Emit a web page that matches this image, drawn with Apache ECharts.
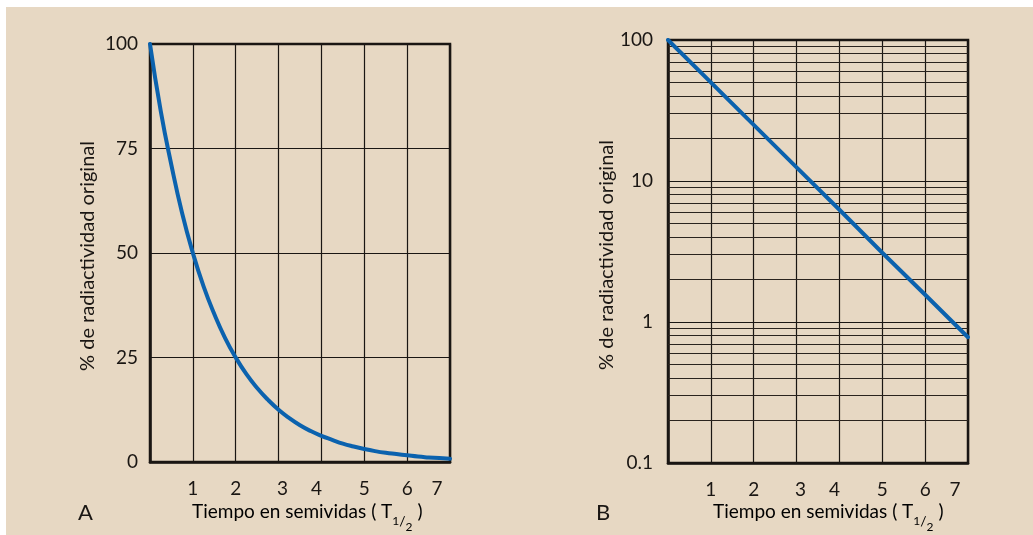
<!DOCTYPE html>
<html>
<head>
<meta charset="utf-8">
<script src="https://cdn.jsdelivr.net/npm/echarts@6/dist/echarts.min.js"></script>
<style>
html,body{margin:0;padding:0;background:#fff;}
#c{position:absolute;left:0;top:0;width:1033px;height:535px;
background:linear-gradient(#fff,#fff) top left/100% 7px no-repeat,linear-gradient(#fff,#fff) top left/6px 100% no-repeat,#e7d8c3;}
</style>
</head>
<body>
<div id="c"></div>
<script>
// Panel A: linear scale, half-life decay
var timeA = [0, 0.25, 0.5, 0.75, 1, 1.25, 1.5, 1.75, 2, 2.25, 2.5, 2.75, 3, 3.25, 3.5, 3.75, 4,
             4.25, 4.5, 4.75, 5, 5.25, 5.5, 5.75, 6, 6.25, 6.5, 6.75, 7];
var pctA = [100, 84, 71, 59.5, 50, 42, 35.4, 29.7, 25, 21, 17.7, 14.9, 12.5, 10.5, 8.8, 7.4, 6.25,
            5.3, 4.4, 3.7, 3.1, 2.6, 2.2, 1.9, 1.6, 1.3, 1.1, 0.93, 0.78];
// Panel B: log scale
var timeB = [0, 1, 2, 3, 4, 5, 6, 7];
var pctB = [100, 50, 25, 12.5, 6.25, 3.1, 1.56, 0.78];
// Minor grid values of the log axis
var logMinor = [0.2, 0.3, 0.4, 0.5, 0.6, 0.7, 0.8, 0.9, 2, 3, 4, 5, 6, 7, 8, 9, 20, 30, 40, 50, 60, 70, 80, 90];
var xTicks = [1, 2, 3, 4, 5, 6, 7];
var yTicksA = [0, 25, 50, 75, 100];
var yTicksB = [0.1, 1, 10, 100];
var xName = 'Tiempo en semividas ( T';
var yName = '% de radiactividad original';

var FONT = 'Lato';
var INK = '#1a1613';
var BLUE = '#0b62ae';

function pairs(xs, ys) { return xs.map(function (x, i) { return [x, ys[i]]; }); }

var chart = echarts.init(document.getElementById('c'), null, {renderer: 'canvas'});

var xRich = {
  n: {fontFamily: FONT, fontSize: 19, color: INK},
  n3: {fontFamily: FONT, fontSize: 19, color: INK, padding: [0, 0, 0, 8]},
  n4: {fontFamily: FONT, fontSize: 19, color: INK, padding: [0, 10, 0, 0]},
  n7: {fontFamily: FONT, fontSize: 19, color: INK, padding: [0, 26, 0, 0]}
};
function xFmt(v) {
  if (xTicks.indexOf(v) < 0) return '';
  var k = (v === 3) ? 'n3' : (v === 4) ? 'n4' : (v === 7) ? 'n7' : 'n';
  return '{' + k + '|' + v + '}';
}

function xAxis(idx) {
  return {
    type: 'value', gridIndex: idx, min: 0, max: 7, interval: 1,
    axisLine: {show: true, lineStyle: {color: INK, width: 2.5}},
    axisTick: {show: false},
    splitLine: {show: true, lineStyle: {color: INK, width: 1.2}},
    axisLabel: {margin: 17, formatter: xFmt, rich: xRich, fontFamily: FONT, fontSize: 19, color: INK}
  };
}

function nameText(x, y) {
  return {
    type: 'text', left: x, top: y,
    style: {
      text: '{m|' + xName + '}{a|1}{b|/}{c|2}{m| )}',
      rich: {
        m: {fontFamily: FONT, fontSize: 19, color: INK, height: 30, verticalAlign: 'top'},
        a: {fontFamily: FONT, fontSize: 12, color: INK, height: 30, verticalAlign: 'top', padding: [10, 0, 0, 0]},
        b: {fontFamily: FONT, fontSize: 14, color: INK, height: 30, verticalAlign: 'top', padding: [10, 0, 0, 0]},
        c: {fontFamily: FONT, fontSize: 12, color: INK, height: 30, verticalAlign: 'top', padding: [16, 0, 0, 0]}
      }
    }
  };
}
function yText(cx, cy) {
  return {
    type: 'text', x: cx, y: cy, rotation: Math.PI / 2,
    style: {text: yName, fontFamily: FONT, fontSize: 20, fill: INK, align: 'center', verticalAlign: 'middle'}
  };
}

chart.setOption({
  backgroundColor: 'transparent',
  animation: false,
  grid: [
    {left: 150, top: 44, width: 300, height: 418, show: true, borderColor: INK, borderWidth: 2.5, backgroundColor: 'transparent'},
    {left: 668, top: 40, width: 300, height: 423, show: true, borderColor: INK, borderWidth: 2.5, backgroundColor: 'transparent'}
  ],
  xAxis: [xAxis(0), xAxis(1)],
  yAxis: [
    {
      type: 'value', gridIndex: 0, min: 0, max: 100, interval: 25,
      axisLine: {show: true, lineStyle: {color: INK, width: 2.5}},
      axisTick: {show: false},
      splitLine: {show: true, lineStyle: {color: INK, width: 1.2}},
      axisLabel: {margin: 12, fontFamily: FONT, fontSize: 19, color: INK,
        formatter: function (v) { return yTicksA.indexOf(v) >= 0 ? String(v) : ''; }}
    },
    {
      type: 'log', logBase: 10, gridIndex: 1, min: 0.1, max: 100,
      axisLine: {show: true, lineStyle: {color: INK, width: 2.5}},
      axisTick: {show: false},
      splitLine: {show: true, lineStyle: {color: INK, width: 1.2}},
      axisLabel: {margin: 15, fontFamily: FONT, fontSize: 19, color: INK,
        formatter: function (v) {
          var m = yTicksB.filter(function (t) { return Math.abs(t - v) < 1e-9 * Math.max(1, t); });
          return m.length ? String(m[0]) : '';
        }}
    }
  ],
  series: [
    {
      type: 'line', xAxisIndex: 0, yAxisIndex: 0, data: pairs(timeA, pctA),
      smooth: true, showSymbol: false, symbol: 'none', z: 5,
      lineStyle: {color: BLUE, width: 4, cap: 'round', join: 'round'}
    },
    {
      type: 'line', xAxisIndex: 1, yAxisIndex: 1, data: [], z: 1, silent: true,
      markLine: {
        silent: true, symbol: ['none', 'none'], animation: false,
        label: {show: false},
        lineStyle: {color: '#2a231d', width: 1.2, type: 'solid'},
        emphasis: {disabled: true},
        data: logMinor.map(function (v) { return {yAxis: v}; })
      }
    },
    {
      type: 'line', xAxisIndex: 1, yAxisIndex: 1, data: pairs(timeB, pctB),
      showSymbol: false, symbol: 'none', z: 5,
      lineStyle: {color: BLUE, width: 4, cap: 'round'}
    }
  ],
  graphic: [
    {type: 'text', left: 78, top: 502, style: {text: 'A', fontFamily: FONT, fontSize: 22, fill: INK}},
    {type: 'text', left: 596, top: 502, style: {text: 'B', fontFamily: FONT, fontSize: 22, fill: INK}},
    nameText(192, 502),
    nameText(713, 502),
    yText(88, 256),
    yText(607, 255)
  ]
});
</script>
</body>
</html>
